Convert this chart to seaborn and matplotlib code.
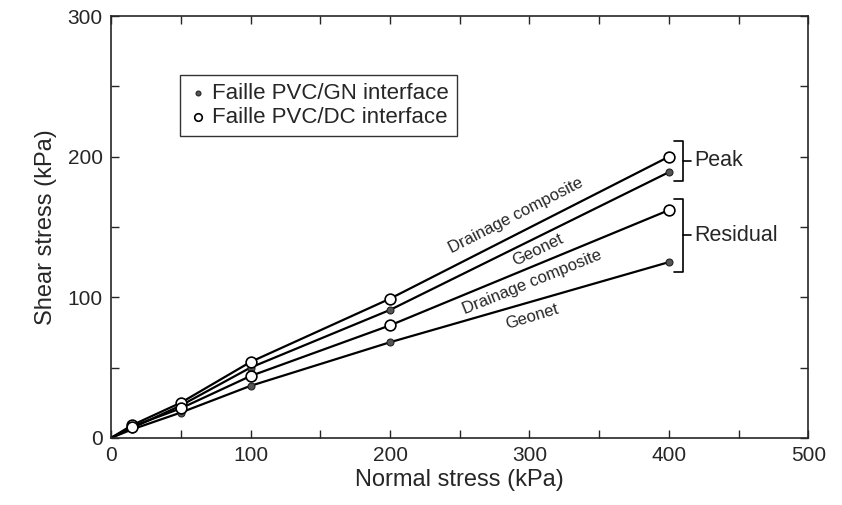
import pandas as pd
import seaborn as sns
from matplotlib import pyplot as plt
from matplotlib.ticker import MultipleLocator

# Normal stress values (kPa) used in the tests
normal_stress = [15, 50, 100, 200, 400]

# Shear stress (kPa)
dc_peak = [9, 25, 54, 99, 200]
gn_peak = [7, 23, 50, 91, 189]
dc_residual = [8, 21, 44, 80, 162]
gn_residual = [6, 18, 37, 68, 125]

series = {
    'DC peak': (dc_peak, 'DC'),
    'GN peak': (gn_peak, 'GN'),
    'DC residual': (dc_residual, 'DC'),
    'GN residual': (gn_residual, 'GN'),
}

rows = []
for name, (vals, iface) in series.items():
    rows.append({'curve': name, 'interface': iface, 'normal': 0, 'shear': 0, 'origin': True})
    for x, y in zip(normal_stress, vals):
        rows.append({'curve': name, 'interface': iface, 'normal': x, 'shear': y, 'origin': False})
df = pd.DataFrame(rows)

sns.set_style('ticks')
plt.rcParams['font.family'] = ['Liberation Sans', 'DejaVu Sans']

fig = plt.figure(figsize=(8.42, 5.05), dpi=100)
ax = fig.add_axes([0.132, 0.133, 0.828, 0.835])

# Fitted lines through origin and the test points
sns.lineplot(data=df, x='normal', y='shear', units='curve', estimator=None,
             color='black', lw=1.6, ax=ax, legend=False, sort=True)

pts = df[~df['origin']]
gn = pts[pts['interface'] == 'GN']
dc = pts[pts['interface'] == 'DC']
sns.scatterplot(data=gn, x='normal', y='shear', color='#555555', edgecolor='#222222',
                s=25, linewidth=0.8, zorder=4, ax=ax, label='Faille PVC/GN interface')
sns.scatterplot(data=dc, x='normal', y='shear', facecolor='white', edgecolor='black',
                s=60, linewidth=1.2, zorder=5, ax=ax, label='Faille PVC/DC interface')

ax.set_xlim(0, 500)
ax.set_ylim(0, 300)
ax.xaxis.set_major_locator(MultipleLocator(100))
ax.xaxis.set_minor_locator(MultipleLocator(50))
ax.yaxis.set_major_locator(MultipleLocator(100))
ax.yaxis.set_minor_locator(MultipleLocator(50))
ax.tick_params(which='both', direction='in', top=True, right=True, length=6, width=1, labelsize=15, pad=6)
for sp in ax.spines.values():
    sp.set_linewidth(1.2)

ax.set_xlabel('Normal stress (kPa)', fontsize=17, labelpad=3)
ax.set_ylabel('Shear stress (kPa)', fontsize=17, labelpad=8)

leg = ax.legend(loc='upper left', bbox_to_anchor=(0.099, 0.86), fontsize=16, frameon=True,
                fancybox=False, edgecolor='black', handletextpad=0.2, borderpad=0.35,
                labelspacing=0.15, handlelength=0.9, borderaxespad=0, markerscale=0.7)
leg.get_frame().set_linewidth(1.0)

# Line labels
lbl = dict(fontsize=12, ha='center', va='center', rotation_mode='anchor')
ax.text(290, 158, 'Drainage composite', rotation=27, **lbl)
ax.text(306, 134, 'Geonet', rotation=26, **lbl)
ax.text(302, 111, 'Drainage composite', rotation=22, **lbl)
ax.text(302, 86, 'Geonet', rotation=17, **lbl)

# Brackets grouping peak and residual curves
def bracket(y0, y1, text):
    ym = (y0 + y1) / 2
    ax.plot([404, 410, 410, 404], [y1, y1, y0, y0], color='black', lw=1.2, clip_on=False)
    ax.plot([410, 416], [ym, ym], color='black', lw=1.2, clip_on=False)
    ax.text(418, ym, text, fontsize=15.5, va='center', ha='left')

bracket(183, 211, 'Peak')
bracket(118, 170, 'Residual')

plt.savefig('out.png', dpi=100)
plt.close()
